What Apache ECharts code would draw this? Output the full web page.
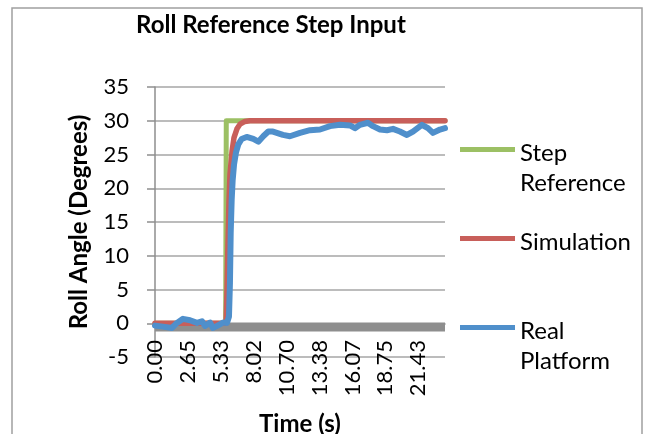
<!DOCTYPE html>
<html><head><meta charset="utf-8">
<script src="https://cdn.jsdelivr.net/npm/echarts@6/dist/echarts.min.js"></script>
<style>html,body{margin:0;padding:0;background:#fff}#c{width:650px;height:434px}</style>
</head><body><div id="c"></div>
<script>
// ---- data ----
var xTickValues = [0, 2.65, 5.33, 8.02, 10.70, 13.38, 16.07, 18.75, 21.43];
var xTickLabels = ['0.00', '2.65', '5.33', '8.02', '10.70', '13.38', '16.07', '18.75', '21.43'];
var yTicks = [-5, 0, 5, 10, 15, 20, 25, 30, 35];

var stepTime = [0, 5.75, 5.80, 23.6];
var stepValue = [0, 0, 30, 30];

var simTime = [0, 5.78, 5.86, 5.94, 6.02, 6.10, 6.27, 6.43, 6.67, 6.92, 7.32, 7.73, 23.6];
var simValue = [0, 0, 5, 12, 18, 22, 25.5, 27.5, 28.8, 29.5, 29.9, 30, 30];

var realTime = [0.00, 0.65, 1.38, 1.79, 2.28, 2.85, 3.42, 3.82, 4.07, 4.48, 4.72, 5.13, 5.53, 5.86,
  6.02, 6.10, 6.16, 6.24, 6.32, 6.43, 6.59, 6.78, 7.05, 7.46, 8.00, 8.41, 8.81, 9.22, 9.60,
  10.41, 10.98, 11.80, 12.61, 13.43, 14.24, 15.05, 15.87, 16.27, 16.68, 17.33, 17.74, 18.31,
  18.88, 19.37, 19.93, 20.50, 20.99, 21.72, 22.21, 22.62, 23.19, 23.60];
var realValue = [-0.35, -0.5, -0.7, 0.05, 0.65, 0.45, 0.05, 0.3, -0.4, 0.1, -0.7, -0.3, 0.1, 0.05,
  1, 6, 13.4, 18.3, 21.2, 23.5, 25.3, 26.5, 27.3, 27.6, 27.3, 26.9, 27.7, 28.4, 28.4,
  27.9, 27.7, 28.2, 28.6, 28.7, 29.2, 29.4, 29.3, 28.9, 29.4, 29.7, 29.2, 28.7,
  28.6, 28.8, 28.4, 27.9, 28.4, 29.4, 28.9, 28.2, 28.7, 28.9];

var zeroTime = [0, 23.6];
var zeroValue = [-0.55, -0.55];

function pairs(t, v) { return t.map(function (x, i) { return [x, v[i]]; }); }

var FONT = 'Lato';
var colors = { step: '#9cc064', sim: '#c85f5a', real: '#4f8fcb', zero: '#8e8e8e' };
var legendIcon = 'path://M0,0h55v0.01h-55z M0,9h55v5h-55z M0,59.99h55v0.01h-55z';

var chart = echarts.init(document.getElementById('c'), null, { renderer: 'canvas' });
chart.setOption({
  animation: false,
  backgroundColor: '#fff',
  title: {
    text: 'Roll Reference Step Input',
    left: 131, top: 8,
    textStyle: { fontFamily: FONT, fontSize: 24, fontWeight: 'bold', color: '#000' }
  },
  graphic: [{
    type: 'rect', shape: { x: 12, y: 8, width: 630, height: 440 },
    style: { fill: 'none', stroke: '#a0a0a0', lineWidth: 1.5 }, silent: true, z: -1
  }],
  legend: {
    orient: 'vertical', left: 460, top: 138, padding: 0,
    itemWidth: 55, itemHeight: 60, itemGap: 29,
    icon: legendIcon,
    formatter: function (n) { return n === 'Simulation' ? 'Simulation\n\u00a0' : n.replace(' ', '\n'); },
    textStyle: { fontFamily: FONT, fontSize: 24, color: '#000', lineHeight: 30 },
    data: [
      { name: 'Step Reference', itemStyle: { color: colors.step, borderWidth: 0 } },
      { name: 'Simulation', itemStyle: { color: colors.sim, borderWidth: 0 } },
      { name: 'Real Platform', itemStyle: { color: colors.real, borderWidth: 0 } }
    ]
  },
  grid: { left: 155, right: 205, top: 87, bottom: 77, containLabel: false, outerBoundsMode: 'none' },
  xAxis: {
    type: 'value', min: 0, max: 23.6,
    name: 'Time (s)', nameLocation: 'middle', nameGap: 55, nameMoveOverlap: false,
    nameTextStyle: { fontFamily: FONT, fontSize: 24, fontWeight: 'bold', color: '#000' },
    axisLine: { show: true, onZero: true, lineStyle: { color: '#8e8e8e', width: 1.5 } },
    axisTick: { show: false },
    splitLine: { show: false },
    axisLabel: {
      customValues: xTickValues, rotate: 90, margin: -17, hideOverlap: false,
      fontFamily: FONT, fontSize: 22, color: '#000',
      formatter: function (v) {
        var i = xTickValues.indexOf(v);
        return i >= 0 ? xTickLabels[i] : '';
      }
    }
  },
  yAxis: {
    type: 'value', min: yTicks[0], max: yTicks[yTicks.length - 1], interval: 5,
    name: 'Roll Angle (Degrees)', nameLocation: 'middle', nameGap: 64,
    nameTextStyle: { fontFamily: FONT, fontSize: 24, fontWeight: 'bold', color: '#000' },
    axisLine: { show: true, lineStyle: { color: '#8e8e8e', width: 1.5 } },
    axisTick: { show: true, length: 8, lineStyle: { color: '#8e8e8e', width: 1.5 } },
    splitLine: { show: true, lineStyle: { color: '#a6a6a6', width: 1.5 } },
    axisLabel: { margin: 26, fontFamily: FONT, fontSize: 22, color: '#000' }
  },
  series: [
    { name: 'Zero', type: 'line', data: pairs(zeroTime, zeroValue), showSymbol: false, symbol: 'none',
      lineStyle: { color: colors.zero, width: 9, cap: 'butt' }, itemStyle: { color: colors.zero }, z: 2 },
    { name: 'Step Reference', type: 'line', data: pairs(stepTime, stepValue), showSymbol: false, symbol: 'none',
      lineStyle: { color: colors.step, width: 5, cap: 'round', join: 'round' }, itemStyle: { color: colors.step }, z: 3 },
    { name: 'Simulation', type: 'line', data: pairs(simTime, simValue), showSymbol: false, symbol: 'none',
      lineStyle: { color: colors.sim, width: 5.5, cap: 'round', join: 'round' }, itemStyle: { color: colors.sim }, z: 4 },
    { name: 'Real Platform', type: 'line', data: pairs(realTime, realValue), showSymbol: false, symbol: 'none',
      lineStyle: { color: colors.real, width: 6, cap: 'round', join: 'round' }, itemStyle: { color: colors.real }, z: 5 }
  ]
});
</script>
</body></html>
